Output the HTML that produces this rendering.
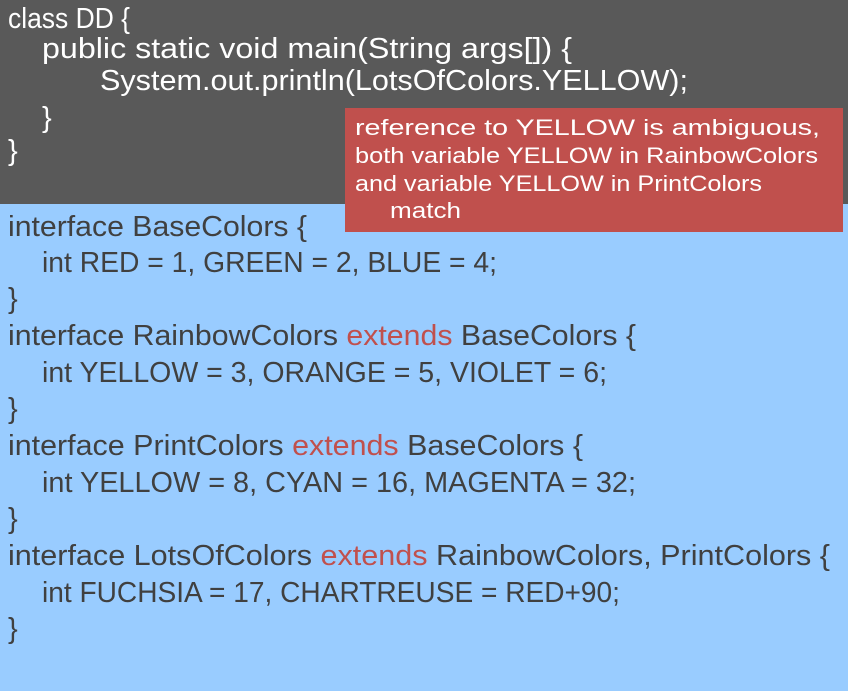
<!DOCTYPE html>
<html><head><meta charset="utf-8"><style>
html,body{margin:0;padding:0;width:848px;height:691px;overflow:hidden;background:#99CCFF}
svg{display:block}
text{font-family:"Liberation Sans",sans-serif}
</style></head><body>
<svg width="848" height="691" viewBox="0 0 848 691" xmlns="http://www.w3.org/2000/svg">
<rect x="0" y="0" width="848" height="204" fill="#595959"/>
<rect x="0" y="204" width="848" height="487" fill="#99CCFF"/>
<g fill="#ffffff" font-size="29">
<text x="8" y="28" textLength="122" lengthAdjust="spacingAndGlyphs">class DD {</text>
<text x="42" y="58" textLength="530" lengthAdjust="spacingAndGlyphs">public static void main(String args[]) {</text>
<text x="100" y="90" textLength="588" lengthAdjust="spacingAndGlyphs">System.out.println(LotsOfColors.YELLOW);</text>
<text x="42" y="127">}</text>
<text x="8" y="160">}</text>
</g>
<rect x="345" y="108" width="498" height="124" fill="#C0504D"/>
<g fill="#ffffff" font-size="22">
<text x="355" y="135" textLength="465" lengthAdjust="spacingAndGlyphs">reference to YELLOW is ambiguous,</text>
<text x="355" y="163" textLength="463" lengthAdjust="spacingAndGlyphs">both variable YELLOW in RainbowColors</text>
<text x="355" y="191" textLength="407" lengthAdjust="spacingAndGlyphs">and variable YELLOW in PrintColors</text>
<text x="390" y="218" textLength="71" lengthAdjust="spacingAndGlyphs">match</text>
</g>
<g fill="#404040" font-size="29">
<text x="8" y="236" textLength="299" lengthAdjust="spacingAndGlyphs">interface BaseColors {</text>
<text x="42" y="272" textLength="455" lengthAdjust="spacingAndGlyphs">int RED = 1, GREEN = 2, BLUE = 4;</text>
<text x="8" y="308">}</text>
<text x="8" y="345" textLength="628" lengthAdjust="spacingAndGlyphs">interface RainbowColors <tspan fill="#C0504D">extends</tspan> BaseColors {</text>
<text x="42" y="382" textLength="565" lengthAdjust="spacingAndGlyphs">int YELLOW = 3, ORANGE = 5, VIOLET = 6;</text>
<text x="8" y="418">}</text>
<text x="8" y="455" textLength="575" lengthAdjust="spacingAndGlyphs">interface PrintColors <tspan fill="#C0504D">extends</tspan> BaseColors {</text>
<text x="42" y="492" textLength="594" lengthAdjust="spacingAndGlyphs">int YELLOW = 8, CYAN = 16, MAGENTA = 32;</text>
<text x="8" y="528">}</text>
<text x="8" y="565" textLength="822" lengthAdjust="spacingAndGlyphs">interface LotsOfColors <tspan fill="#C0504D">extends</tspan> RainbowColors, PrintColors {</text>
<text x="42" y="602" textLength="578" lengthAdjust="spacingAndGlyphs">int FUCHSIA = 17, CHARTREUSE = RED+90;</text>
<text x="8" y="638">}</text>
</g>
</svg>
</body></html>
